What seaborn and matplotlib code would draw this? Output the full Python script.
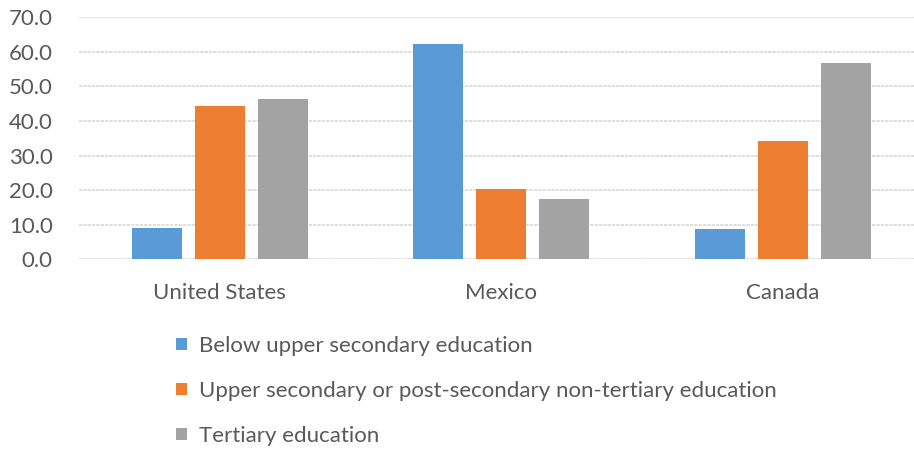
import pandas as pd
import seaborn as sns
import matplotlib.pyplot as plt

countries = ["United States", "Mexico", "Canada"]
levels = ["Below upper secondary education",
          "Upper secondary or post-secondary non-tertiary education",
          "Tertiary education"]
below_upper = [9.1, 62.2, 8.7]
upper_secondary = [44.3, 20.2, 34.3]
tertiary = [46.3, 17.4, 56.7]
yticks = [0, 10, 20, 30, 40, 50, 60, 70]

df = pd.DataFrame({
    "country": countries * 3,
    "level": [levels[0]] * 3 + [levels[1]] * 3 + [levels[2]] * 3,
    "value": below_upper + upper_secondary + tertiary,
})

sns.set_style("white")
plt.rcParams['font.family'] = ['Lato', 'DejaVu Sans']
txt = "#595959"

fig = plt.figure(figsize=(9.14, 4.49), dpi=100)
ax = fig.add_axes([0.0864, 0.4225, 0.924, 0.539])

sns.barplot(data=df, x="country", y="value", hue="level", ax=ax,
            palette=["#5b9bd5", "#ed7d31", "#a3a3a3"],
            width=0.671, gap=0.21, saturation=1, errorbar=None, linewidth=0)

ax.set_ylim(0, 70)
ax.set_yticks(yticks)
ax.set_yticklabels([f"{t:.1f}" for t in yticks])
ax.set_xlim(-0.5, 2.5)
ax.yaxis.grid(True, color="#d9d9d9", linewidth=1.2, linestyle=(0, (2, 0.6)))
ax.set_axisbelow(True)
for s in ax.spines.values():
    s.set_visible(False)
ax.tick_params(axis="both", length=0, labelsize=16, colors=txt)
ax.tick_params(axis="x", pad=17)
ax.tick_params(axis="y", pad=19)
ax.set_xlabel("")
ax.set_ylabel("")

handles, labels = ax.get_legend_handles_labels()
ax.get_legend().remove()
fig.legend(handles, labels, loc="upper left", bbox_to_anchor=(0.183, 0.272),
           frameon=False, fontsize=16, labelcolor=txt, labelspacing=1.13,
           handlelength=0.5, handleheight=0.5, handletextpad=0.55,
           borderaxespad=0)

fig.savefig("out.png", dpi=100)
